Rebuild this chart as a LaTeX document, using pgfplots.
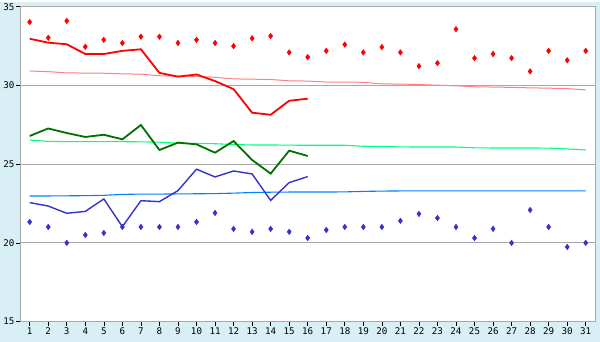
\documentclass[border=0pt]{standalone}
\usepackage{pgfplots}
\pgfplotsset{compat=1.18}
\usepackage{fontspec}
\setmainfont{DejaVu Sans Mono}
\definecolor{bgblue}{HTML}{D9EFF6}
\definecolor{axgray}{HTML}{A8A8A8}
\definecolor{hired}{HTML}{FF0000}
\definecolor{lowblue}{HTML}{3434CC}
\definecolor{dkgreen}{HTML}{007000}
\definecolor{trred}{HTML}{FF8080}
\definecolor{trgreen}{HTML}{00FF80}
\definecolor{trblue}{HTML}{0080FF}
\begin{document}
\begin{tikzpicture}
\fill[bgblue] (0,0) rectangle (600pt,340pt);
\begin{axis}[
  at={(20pt,20pt)}, anchor=south west,
  scale only axis, width=575pt, height=315pt,
  xmin=0.5, xmax=31.5, ymin=15, ymax=35,
  xtick={1,...,31}, ytick={15,20,25,30,35},
  axis background/.style={fill=white},
  axis line style={axgray, line width=1pt},
  tick style={black, line width=0.6pt},
  tick align=outside, major tick length=4pt,
  xtick pos=bottom, ytick pos=left,
  ymajorgrids, grid style={axgray, line width=0.8pt},
  tick label style={font=\fontsize{9.2}{10}\selectfont},
  xticklabel style={yshift=1.5pt},
  yticklabel style={xshift=1.5pt},
  /pgf/number format/assume math mode=true,
  clip=false,
]
% trends
\addplot[trred, line width=1pt, no markers] coordinates {
(1,30.92)(2,30.88)(3,30.80)(4,30.79)(5,30.78)(6,30.74)(7,30.72)(8,30.62)(9,30.60)(10,30.58)
(11,30.52)(12,30.42)(13,30.40)(14,30.38)(15,30.30)(16,30.28)(17,30.22)(18,30.22)(19,30.20)(20,30.10)
(21,30.09)(22,30.06)(23,30.02)(24,29.98)(25,29.92)(26,29.90)(27,29.88)(28,29.85)(29,29.83)(30,29.80)(31,29.72)};
\addplot[trgreen, line width=1.1pt, no markers] coordinates {
(1,26.53)(2,26.45)(3,26.43)(4,26.43)(5,26.43)(6,26.43)(7,26.42)(8,26.40)(9,26.33)(10,26.32)
(11,26.30)(12,26.25)(13,26.22)(14,26.22)(15,26.21)(16,26.20)(17,26.20)(18,26.20)(19,26.14)(20,26.12)
(21,26.10)(22,26.09)(23,26.09)(24,26.09)(25,26.04)(26,26.03)(27,26.03)(28,26.03)(29,26.02)(30,25.97)(31,25.90)};
\addplot[trblue, line width=1.1pt, no markers] coordinates {
(1,22.98)(2,22.98)(3,22.99)(4,23.00)(5,23.02)(6,23.08)(7,23.10)(8,23.10)(9,23.11)(10,23.12)
(11,23.13)(12,23.16)(13,23.20)(14,23.22)(15,23.23)(16,23.23)(17,23.23)(18,23.24)(19,23.27)(20,23.29)
(21,23.30)(22,23.30)(23,23.30)(24,23.30)(25,23.30)(26,23.30)(27,23.30)(28,23.30)(29,23.30)(30,23.30)(31,23.30)};
% main lines
\addplot[hired, line width=1.8pt, no markers] coordinates {
(1,32.97)(2,32.72)(3,32.62)(4,32.00)(5,32.00)(6,32.20)(7,32.30)(8,30.80)(9,30.56)(10,30.70)
(11,30.28)(12,29.77)(13,28.27)(14,28.14)(15,29.03)(16,29.16)};
\addplot[dkgreen, line width=1.8pt, no markers] coordinates {
(1,26.79)(2,27.27)(3,26.98)(4,26.73)(5,26.87)(6,26.58)(7,27.49)(8,25.90)(9,26.37)(10,26.26)
(11,25.73)(12,26.47)(13,25.27)(14,24.40)(15,25.86)(16,25.52)};
\addplot[lowblue, line width=1.4pt, no markers] coordinates {
(1,22.56)(2,22.34)(3,21.88)(4,22.00)(5,22.79)(6,21.03)(7,22.68)(8,22.62)(9,23.32)(10,24.68)
(11,24.19)(12,24.57)(13,24.38)(14,22.70)(15,23.83)(16,24.21)};
% markers
\addplot[only marks, mark=diamond*, mark size=2.8pt, color=hired] coordinates {
(1,34.03)(2,33.03)(3,34.10)(4,32.46)(5,32.90)(6,32.70)(7,33.10)(8,33.10)(9,32.70)(10,32.90)
(11,32.70)(12,32.50)(13,33.00)(14,33.14)(15,32.10)(16,31.80)(17,32.20)(18,32.60)(19,32.10)(20,32.44)
(21,32.10)(22,31.23)(23,31.42)(24,33.58)(25,31.74)(26,32.00)(27,31.74)(28,30.90)(29,32.20)(30,31.60)(31,32.20)};
\addplot[only marks, mark=diamond*, mark size=2.8pt, color=lowblue] coordinates {
(1,21.33)(2,21.01)(3,20.00)(4,20.50)(5,20.63)(6,21.01)(7,21.01)(8,21.01)(9,21.01)(10,21.33)
(11,21.90)(12,20.89)(13,20.70)(14,20.89)(15,20.70)(16,20.31)(17,20.82)(18,21.01)(19,21.01)(20,21.01)
(21,21.40)(22,21.84)(23,21.58)(24,21.01)(25,20.31)(26,20.89)(27,20.00)(28,22.09)(29,21.01)(30,19.74)(31,20.00)};
\end{axis}
\end{tikzpicture}
\end{document}
